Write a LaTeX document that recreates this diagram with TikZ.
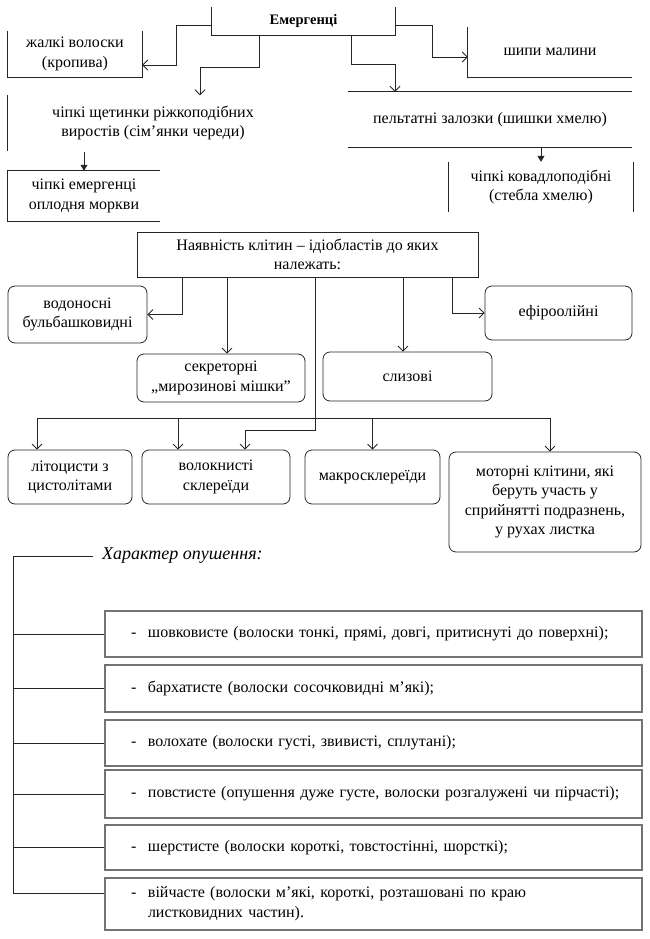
\documentclass[tikz,border=0pt]{standalone}
\usepackage{fontspec}
\setmainfont{Liberation Serif}
\usetikzlibrary{arrows.meta,calc}
\newcommand{\itemline}[1]{\mbox{\makebox[17pt][l]{-}#1}}
\begin{document}
\begin{tikzpicture}[x=1pt,y=-1pt,
  font=\fontsize{16}{19.5}\selectfont,
  ln/.style={draw=black!85, line width=0.8pt},
  arr/.style={ln, -{Straight Barb[length=5pt,width=10pt,line width=0.8pt]}},
  sarr/.style={ln, -{Triangle[length=6pt,width=7pt]}},
  tb/.style={inner sep=0pt, align=center},
  rb/.style={tb, draw=black!85, line width=0.8pt, rounded corners=7pt},
  gb/.style={inner xsep=26pt, inner ysep=0pt, draw=black!55, line width=1.3pt,
    text width=485pt, align=left, font=\fontsize{16}{20}\selectfont}]
\useasboundingbox (0,0) rectangle (650,939);
% ---------- top section ----------
\node[tb, minimum width=183pt, minimum height=28pt, font=\bfseries\fontsize{14.5}{19.5}\selectfont] (emer) at (303.5,21) {Емергенці};
\draw[ln] (emer.north west) -- (emer.south west) -- (emer.south east) -- (emer.north east);
\node[tb, minimum width=134pt, minimum height=46pt] (zhal) at (75,54) {жалкі волоски\\(кропива)};
\draw[ln] (zhal.north west) -- (zhal.south west) -- (zhal.south east) -- (zhal.north east);
\node[tb, minimum width=164pt, minimum height=50pt] (ship) at (550,52) {шипи малини};
\draw[ln] (ship.north west) -- (ship.south west) -- (ship.south east);
\node[tb, minimum width=290pt, minimum height=55pt] (shch) at (153,123) {чіпкі щетинки ріжкоподібних\\виростів (сім’янки череди)};
\draw[ln] (shch.north west) -- (shch.south west);
\node[tb, minimum width=284pt, minimum height=55pt] (pelt) at (490,119.5) {пельтатні залозки (шишки хмелю)};
\draw[ln] (pelt.north west) -- (pelt.north east);
\draw[ln] (pelt.south west) -- (pelt.south east);
\node[tb, minimum width=152pt, minimum height=50pt] (emer2) at (84,196) {чіпкі емергенці\\оплодня моркви};
\draw[ln] (emer2.north east) -- (emer2.north west) -- (emer2.south west) -- (emer2.south east);
\node[tb, minimum width=184pt, minimum height=50pt] (chipk) at (541,187) {чіпкі ковадлоподібні\\(стебла хмелю)};
\draw[ln] (chipk.north west) -- (chipk.south west);
\draw[ln] (chipk.north east) -- (chipk.south east);
% top connectors
\draw[arr] ([yshift=-4pt]emer.west) -- ++(-35,0) |- ([yshift=-11pt]zhal.east);
\draw[arr] ([xshift=-44.5pt]emer.south) -- ++(0,32) -| ([xshift=47pt]shch.north);
\draw[arr] ([yshift=-4pt]emer.east) -- ++(37,0) |- ([yshift=-5pt]ship.west);
\draw[arr] ([xshift=47.5pt]emer.south) -- ++(0,29) -| ([xshift=-95pt]pelt.north);
\draw[sarr] (pelt.south -| chipk.north) -- (chipk.north);
\draw[sarr] ([yshift=-1.5pt]shch.south -| emer2.north) -- (emer2.north);
% ---------- middle section ----------
\node[tb, draw=black!85, line width=0.8pt, minimum width=341pt, minimum height=45pt] (nayav) at (307.5,254.5) {Наявність клітин – ідіобластів до яких\\належать:};
\node[rb, minimum width=139pt, minimum height=57pt] (vodo) at (77.5,314.5) {водоносні\\бульбашковидні};
\node[rb, minimum width=168pt, minimum height=48pt] (sekr) at (221,378) {секреторні\\„мирозинові мішки”};
\node[rb, minimum width=169pt, minimum height=49pt] (sliz) at (407.5,376.5) {слизові};
\node[rb, minimum width=147pt, minimum height=54pt] (efir) at (558.5,313) {ефіроолійні};
\node[rb, minimum width=124pt, minimum height=54pt] (lito) at (70,477) {літоцисти з\\цистолітами};
\node[rb, minimum width=148pt, minimum height=54pt] (volok) at (216,477) {волокнисті\\склереїди};
\node[rb, minimum width=135pt, minimum height=54pt] (makro) at (372.5,477) {макросклереїди};
\node[rb, minimum width=192pt, minimum height=100pt] (motor) at (545,502) {моторні клітини, які\\беруть участь у\\сприйнятті подразнень,\\у рухах листка};
\draw[arr] ([xshift=-125.5pt]nayav.south) |- (vodo.east);
\draw[arr] ([xshift=-80.5pt]nayav.south) -- ([xshift=6pt]sekr.north);
\draw[arr] ([xshift=95.5pt]nayav.south) -- ([xshift=-4.5pt]sliz.north);
\draw[arr] ([xshift=144.5pt]nayav.south) |- (efir.west);
\draw[arr] ([xshift=7.5pt]nayav.south) -- ++(0,153) -| ([xshift=29pt]volok.north);
\coordinate (bus) at (315,418);
\draw[arr] (bus) -| ([xshift=-33pt]lito.north);
\draw[arr] (bus) -| ([xshift=-38pt]volok.north);
\draw[arr] (bus) -| (makro.north);
\draw[arr] (bus) -| ([xshift=5pt]motor.north);
% ---------- bottom section ----------
\node[anchor=west, inner sep=3pt, font=\itshape\fontsize{18}{20}\selectfont] (title) at (99,556) {Характер опушення:};
\node[gb, minimum height=46pt] (b1) at (373.5,634) {\itemline{шовковисте (волоски тонкі, прямі, довгі, притиснуті до поверхні);}};
\node[gb, minimum height=47pt] (b2) at (373.5,688.5) {\itemline{бархатисте (волоски сосочковидні м’які);}};
\node[gb, minimum height=46pt] (b3) at (373.5,743) {\itemline{волохате (волоски густі, звивисті, сплутані);}};
\node[gb, minimum height=48pt] (b4) at (373.5,794) {\itemline{повстисте (опушення дуже густе, волоски розгалужені чи пірчасті);}};
\node[gb, minimum height=45pt] (b5) at (373.5,847.5) {\itemline{шерстисте (волоски короткі, товстостінні, шорсткі);}};
\node[gb, minimum height=52pt] (b6) at (373.5,904) {\itemline{війчасте (волоски м’які, короткі, розташовані по краю}\\\hspace*{17pt}листковидних частин).};
\coordinate (ttop) at (13,556);
\coordinate (b6br) at ([yshift=11pt]b6.west);
\draw[ln] ([xshift=-6pt]title.west) -- (ttop) |- (b6br);
\draw[ln] (ttop |- b1.west) -- (b1.west);
\draw[ln] (ttop |- b2.west) -- (b2.west);
\draw[ln] (ttop |- b3.west) -- (b3.west);
\draw[ln] (ttop |- b4.west) -- (b4.west);
\draw[ln] (ttop |- b5.west) -- (b5.west);
\end{tikzpicture}
\end{document}
